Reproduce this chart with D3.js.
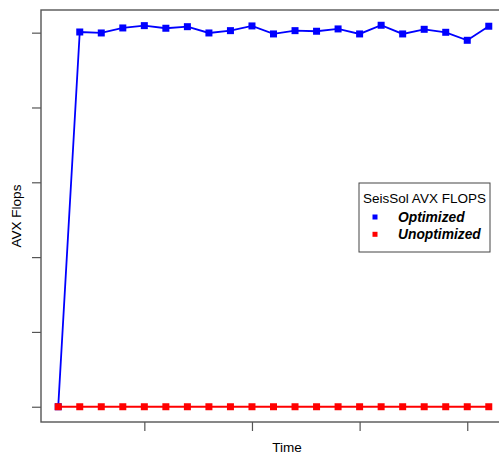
<!DOCTYPE html>
<html>
<head>
<meta charset="utf-8">
<script src="https://cdn.jsdelivr.net/npm/d3@7"></script>
<style>
  body { margin: 0; background: #fff; }
  svg { display: block; font-family: "Liberation Sans", Arial, sans-serif; }
</style>
</head>
<body>
<svg width="499" height="454"></svg>
<script>
const svg = d3.select("svg"),
    width = +svg.attr("width"),
    height = +svg.attr("height");

// plot box (right side runs past the window, like the reference)
const boxLeft = 41, boxTop = 10, boxRight = 506, boxBottom = 422;

// data (AVX flops, in tick units)
const time = d3.range(1, 22);
const optimized = [0, 5.009, 4.996, 5.063, 5.094, 5.059, 5.080, 4.996, 5.027, 5.090, 4.983,
    5.027, 5.019, 5.050, 4.983, 5.099, 4.983, 5.045, 5.005, 4.898, 5.086];
const unoptimized = time.map(() => 0);
const xTicks = [5, 10, 15, 20];
const yTicks = [0, 1, 2, 3, 4, 5];
const seriesNames = ["Optimized", "Unoptimized"];
const seriesColors = ["#0000ff", "#ff0000"];

// R style 4% padding
function pad(ext) {
    let r = ext[1] - ext[0];
    return [ext[0] - 0.04 * r, ext[1] + 0.04 * r];
}

let scaleX = d3.scaleLinear()
    .domain(pad(d3.extent(time)))
    .range([boxLeft, boxRight]);

let scaleY = d3.scaleLinear()
    .domain(pad(d3.extent(optimized.concat(unoptimized))))
    .range([boxBottom, boxTop]);

// axes, no labels
svg.append("g")
    .attr("transform", `translate(0, ${boxBottom})`)
    .call(d3.axisBottom(scaleX).tickValues(xTicks).tickFormat("").tickSizeOuter(0).tickSize(9))
    .call(g => g.select(".domain").remove())
    .selectAll("line").attr("stroke", "#555").attr("stroke-width", 1.2);

svg.append("g")
    .attr("transform", `translate(${boxLeft}, 0)`)
    .call(d3.axisLeft(scaleY).tickValues(yTicks).tickFormat("").tickSizeOuter(0).tickSize(9))
    .call(g => g.select(".domain").remove())
    .selectAll("line").attr("stroke", "#555").attr("stroke-width", 1.2);

svg.append("rect")
    .attr("x", boxLeft)
    .attr("y", boxTop)
    .attr("width", boxRight - boxLeft)
    .attr("height", boxBottom - boxTop)
    .attr("fill", "none")
    .attr("stroke", "#555")
    .attr("stroke-width", 1.4);

// lines + square points
let line = d3.line()
    .x((d, i) => scaleX(time[i]))
    .y(d => scaleY(d));

[optimized, unoptimized].forEach((vals, k) => {
    svg.append("path")
        .datum(vals)
        .attr("d", line)
        .attr("fill", "none")
        .attr("stroke", seriesColors[k])
        .attr("stroke-width", 1.8);

    svg.selectAll(".pt" + k)
        .data(vals)
        .enter()
        .append("rect")
        .attr("x", (d, i) => scaleX(time[i]) - 3.5)
        .attr("y", d => scaleY(d) - 3.5)
        .attr("width", 7)
        .attr("height", 7)
        .style("fill", seriesColors[k]);
});

// axis titles
svg.append("text")
    .attr("x", 287)
    .attr("y", 452)
    .attr("text-anchor", "middle")
    .style("font-size", "13.5px")
    .text("Time");

svg.append("text")
    .attr("transform", `translate(21, ${(boxTop + boxBottom) / 2}) rotate(-90)`)
    .attr("text-anchor", "middle")
    .style("font-size", "13.5px")
    .text("AVX Flops");

// legend
let lg = svg.append("g").attr("transform", "translate(359, 183)");
lg.append("rect")
    .attr("width", 131)
    .attr("height", 69)
    .attr("fill", "#fff")
    .attr("stroke", "#444")
    .attr("stroke-width", 1);
lg.append("text")
    .attr("x", 65.5)
    .attr("y", 20)
    .attr("text-anchor", "middle")
    .style("font-size", "13.5px")
    .text("SeisSol AVX FLOPS");
seriesNames.forEach((name, i) => {
    let cy = 34 + i * 17.3;
    lg.append("rect")
        .attr("x", 13.5)
        .attr("y", cy - 2.5)
        .attr("width", 5)
        .attr("height", 5)
        .style("fill", seriesColors[i]);
    lg.append("text")
        .attr("x", 39)
        .attr("y", cy + 5)
        .style("font-size", "13.8px")
        .style("font-weight", "bold")
        .style("font-style", "italic")
        .text(name);
});
</script>
</body>
</html>
